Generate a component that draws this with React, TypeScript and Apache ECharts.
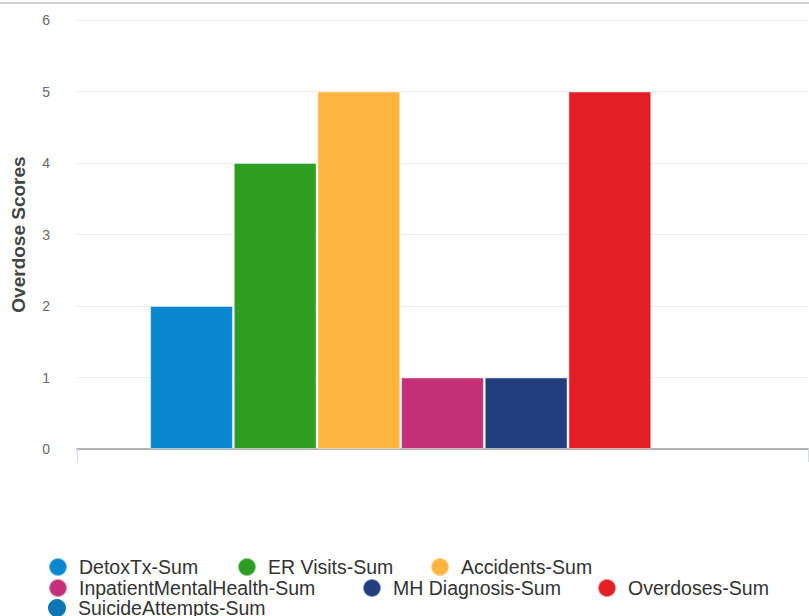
import React, { useEffect, useRef } from "react";
import * as echarts from "echarts";

const categories = ["Overdose"];
const seriesNames = [
  "DetoxTx-Sum",
  "ER Visits-Sum",
  "Accidents-Sum",
  "InpatientMentalHealth-Sum",
  "MH Diagnosis-Sum",
  "Overdoses-Sum",
  "SuicideAttempts-Sum",
];
const seriesValues = [2, 4, 5, 1, 1, 5, 0];
const seriesColors = ["#0a88cf", "#2c9e22", "#feb43f", "#c63078", "#223e7d", "#e21f25", "#0b78b4"];
const yTicks = [0, 1, 2, 3, 4, 5, 6];
const yAxisTitle = "Overdose Scores";

// legend item placements (row, left)
const legendLeft = [48, 237, 430, 48, 362, 597, 48];
const legendRowCenter = [566, 566, 566, 587, 587, 587, 607];

export default function App() {
  const ref = useRef<HTMLDivElement>(null);
  useEffect(() => {
    if (!ref.current) return;
    const chart = echarts.init(ref.current, undefined, { renderer: "svg" });
    const legends = seriesNames.map((name, i) => ({
      data: [name],
      left: legendLeft[i],
      top: legendRowCenter[i] - 9,
      padding: 0,
      itemWidth: 18,
      itemHeight: 18,
      icon: "circle",
      selectedMode: false,
      textStyle: {
        fontFamily: "Liberation Sans, Arial, sans-serif",
        fontSize: 19.5,
        lineHeight: 18,
        color: "#333",
        padding: [0, 0, 0, 7],
      },
    }));
    chart.setOption({
      animation: false,
      backgroundColor: "#ffffff",
      grid: { left: 77, right: 1, top: 20, bottom: 167, containLabel: false },
      graphic: [
        {
          type: "rect",
          shape: { x: 0, y: 2, width: 809, height: 2 },
          style: { fill: "#d2d2d2" },
          silent: true,
        },
      ],
      legend: legends,
      xAxis: {
        type: "category",
        data: categories,
        axisLine: { lineStyle: { color: "#b3b3b3", width: 2 } },
        axisTick: { show: true, length: 13, lineStyle: { color: "#d6dbe8" } },
        axisLabel: { show: false },
      },
      yAxis: {
        type: "value",
        min: yTicks[0],
        max: yTicks[yTicks.length - 1],
        interval: 1,
        name: yAxisTitle,
        nameLocation: "middle",
        nameGap: 49,
        nameRotate: 90,
        nameTextStyle: {
          fontFamily: "Liberation Sans, Arial, sans-serif",
          fontSize: 19,
          fontWeight: "bold",
          color: "#444",
        },
        axisLine: { show: false },
        axisTick: { show: false },
        axisLabel: {
          margin: 27,
          fontFamily: "Liberation Sans, Arial, sans-serif",
          fontSize: 14,
          color: "#6a6a6a",
        },
        splitLine: { lineStyle: { color: "#ececec", width: 1 } },
      },
      series: seriesNames.map((name, i) => ({
        name,
        type: "bar",
        data: [seriesValues[i]],
        barGap: "1%",
        barCategoryGap: "20%",
        z: 1,
        itemStyle: {
          color: seriesColors[i],
          borderColor: "rgba(255,255,255,0.45)",
          borderWidth: seriesValues[i] > 0 ? 1 : 0,
        },
      })),
    });
    return () => chart.dispose();
  }, []);
  return <div ref={ref} style={{ width: 809, height: 616, position: "absolute", left: 0, top: 0 }} />;
}
